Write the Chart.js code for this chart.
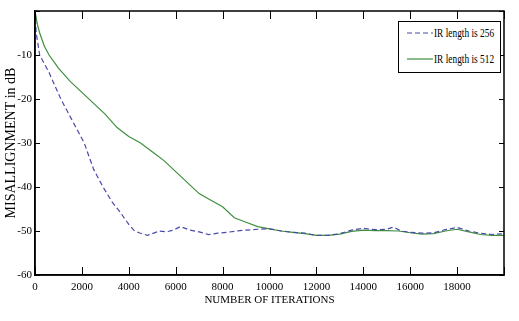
<!DOCTYPE html>
<html>
<head>
<meta charset="utf-8">
<script src="https://cdn.jsdelivr.net/npm/chart.js@4"></script>
<style>
  body { margin: 0; background: #fff; }
  #wrap { position: relative; width: 519px; height: 321px; }
  #legend {
    position: absolute; left: 398px; top: 21px; width: 101px; height: 50px;
    border: 1px solid #000; background: #fff;
    font-family: "Liberation Serif", serif; font-size: 13px; color: #000;
  }
  #legend .row { position: absolute; left: 8px; height: 16px; line-height: 16px; white-space: nowrap; }
  #legend svg { position: absolute; left: 0; top: 6px; }
  #legend span { position: absolute; left: 27px; top: 0; display: inline-block; transform: scaleX(0.72); transform-origin: left center; }
</style>
</head>
<body>
<div id="wrap">
  <canvas id="chart" width="519" height="321"></canvas>
  <div id="legend">
    <div class="row" style="top:3px">
      <svg width="26" height="4"><line x1="0" y1="2" x2="26" y2="2" stroke="#4a4aa8" stroke-width="1.2" stroke-dasharray="5,3"/></svg><span>IR length is 256</span>
    </div>
    <div class="row" style="top:29px">
      <svg width="26" height="4"><line x1="0" y1="2" x2="26" y2="2" stroke="#3f8f3f" stroke-width="1.2"/></svg><span>IR length is 512</span>
    </div>
  </div>
</div>
<script>
// IR length 256 (dashed blue)
const iters256 = [0, 50, 200, 600, 1100, 1600, 2100, 2500, 2900, 3300, 3600, 4000, 4250, 4500, 4800, 5000, 5300, 5600, 5900, 6200, 6600, 7000, 7400, 7800, 8200, 8600, 9000, 9500, 10000, 10500, 11000, 11500, 12000, 12500, 13000, 13500, 14000, 14500, 15000, 15300, 15600, 16000, 16500, 17000, 17500, 18000, 18500, 19000, 19500, 20000];
const mis256 = [0, -5, -10, -14, -20, -25, -30, -36, -40, -43.5, -45.5, -48.5, -50, -50.5, -51, -50.6, -50, -50.2, -49.8, -49, -49.8, -50.2, -50.8, -50.5, -50.3, -50, -49.8, -49.6, -49.5, -50, -50.3, -50.5, -51, -51, -50.6, -49.8, -49.4, -49.7, -49.6, -49.1, -50, -50.3, -50.5, -50.4, -49.7, -49.2, -50, -50.5, -50.8, -50.6];

// IR length 512 (solid green)
const iters512 = [0, 100, 200, 400, 600, 1000, 1500, 2000, 2500, 3000, 3500, 4000, 4500, 5000, 5500, 6000, 6500, 7000, 7500, 8000, 8500, 9000, 9500, 10000, 10500, 11000, 11500, 12000, 12500, 13000, 13500, 14000, 14500, 15000, 15500, 16000, 16500, 17000, 17500, 18000, 18500, 19000, 19500, 20000];
const mis512 = [0, -3, -5, -8, -10, -13, -16, -18.5, -21, -23.5, -26.5, -28.5, -30, -32, -34, -36.5, -39, -41.5, -43, -44.5, -47, -48, -49, -49.5, -50, -50.3, -50.6, -51, -51, -50.7, -50.1, -49.8, -49.9, -49.9, -50, -50.4, -50.7, -50.6, -50, -49.6, -50.2, -50.8, -51, -51];

const xTicksMax = 18000;
const yTicksHidden = 0;

function toPoints(xs, ys) {
  return xs.map((x, i) => ({ x: x, y: ys[i] }));
}

// inward tick marks on all four sides + frame (matlab style)
const frameTicks = {
  id: 'frameTicks',
  afterDraw(chart) {
    const ctx = chart.ctx;
    const a = chart.chartArea;
    const xs = chart.scales.x, ys = chart.scales.y;
    ctx.save();
    ctx.strokeStyle = '#000';
    ctx.lineWidth = 1;
    ctx.beginPath();
    xs.ticks.forEach(t => {
      const px = Math.round(xs.getPixelForValue(t.value)) + 0.5;
      ctx.moveTo(px, a.bottom); ctx.lineTo(px, a.bottom - 8);
      ctx.moveTo(px, a.top); ctx.lineTo(px, a.top + 8);
    });
    ys.ticks.forEach(t => {
      const py = Math.round(ys.getPixelForValue(t.value)) + 0.5;
      ctx.moveTo(a.left, py); ctx.lineTo(a.left + 5, py);
      ctx.moveTo(a.right, py); ctx.lineTo(a.right - 5, py);
    });
    ctx.stroke();
    ctx.lineWidth = 1.5;
    ctx.strokeRect(a.left, a.top, a.right - a.left, a.bottom - a.top);
    ctx.restore();
  }
};

const ctx = document.getElementById('chart').getContext('2d');
new Chart(ctx, {
  type: 'line',
  data: {
    datasets: [{
      label: 'IR length is 256',
      data: toPoints(iters256, mis256),
      borderColor: '#4a4aa8',
      borderWidth: 1.2,
      borderDash: [5, 3],
      pointRadius: 0,
      tension: 0,
      fill: false
    }, {
      label: 'IR length is 512',
      data: toPoints(iters512, mis512),
      borderColor: '#3f8f3f',
      borderWidth: 1.2,
      pointRadius: 0,
      tension: 0,
      fill: false
    }]
  },
  options: {
    responsive: false,
    animation: false,
    layout: { padding: { left: 0, right: 15, top: 11, bottom: 0 } },
    plugins: {
      legend: { display: false },
      tooltip: { enabled: false }
    },
    scales: {
      x: {
        type: 'linear',
        min: 0,
        max: 20000,
        afterFit(scale) { scale.height = 46; },
        grid: { drawOnChartArea: false, drawTicks: false },
        border: { color: '#000', width: 1.5 },
        ticks: {
          stepSize: 2000,
          padding: 6,
          color: '#000',
          font: { family: 'Liberation Serif', size: 11 },
          maxRotation: 0,
          callback: v => (v > xTicksMax ? '' : String(v))
        },
        title: {
          display: true,
          text: 'NUMBER OF ITERATIONS',
          color: '#000',
          font: { family: 'Liberation Serif', size: 11 },
          padding: { top: 0, bottom: 14 }
        }
      },
      y: {
        min: -60,
        max: 0,
        afterFit(scale) { scale.width = 35; },
        grid: { drawOnChartArea: false, drawTicks: false },
        border: { color: '#000', width: 1.5 },
        ticks: {
          stepSize: 10,
          padding: 3,
          color: '#000',
          font: { family: 'Liberation Serif', size: 11 },
          callback: v => (v === yTicksHidden ? '' : String(v))
        },
        title: {
          display: true,
          text: 'MISALLIGNMENT in dB',
          color: '#000',
          font: { family: 'Liberation Serif', size: 14 },
          padding: { top: 3, bottom: 0 }
        }
      }
    }
  },
  plugins: [frameTicks]
});
</script>
</body>
</html>
